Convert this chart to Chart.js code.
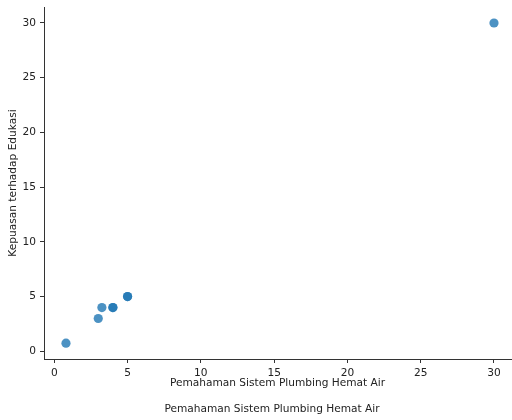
<!DOCTYPE html>
<html>
<head>
<meta charset="utf-8">
<script src="https://cdn.jsdelivr.net/npm/chart.js@4/dist/chart.umd.min.js"></script>
<style>
  body { margin: 0; background: #fff; }
  #wrap { width: 512px; height: 420px; }
</style>
</head>
<body>
<div id="wrap"><canvas id="chart" width="512" height="420"></canvas></div>
<script>
// data
const pemahaman = [0.8, 3, 3.25, 4, 4, 5, 5, 30];     // x
const kepuasan  = [0.75, 3, 4, 4, 4, 5, 5, 30];       // y
const xTitle = 'Pemahaman Sistem Plumbing Hemat Air';
const yTitle = 'Kepuasan terhadap Edukasi';
const caption = 'Pemahaman Sistem Plumbing Hemat Air';

const FONT = 'DejaVu Sans';
const FS = 10.6;
const INK = '#222';

// second label under the axis title
const captionPlugin = {
  id: 'caption',
  afterDraw(c) {
    const ctx = c.ctx;
    ctx.save();
    ctx.font = `${FS}px "${FONT}"`;
    ctx.fillStyle = INK;
    ctx.textAlign = 'center';
    ctx.textBaseline = 'middle';
    ctx.fillText(caption, 272, 409);
    ctx.restore();
  }
};

const points = pemahaman.map((x, i) => ({ x, y: kepuasan[i] }));

new Chart(document.getElementById('chart'), {
  type: 'scatter',
  data: {
    datasets: [{
      data: points,
      backgroundColor: 'rgba(31,119,180,0.8)',
      borderWidth: 0,
      pointRadius: 4.6,
      pointHoverRadius: 4.6,
      clip: false
    }]
  },
  options: {
    responsive: false,
    animation: false,
    devicePixelRatio: 1,
    layout: { autoPadding: false, padding: { top: 7, right: 1, bottom: 29, left: 0 } },
    plugins: { legend: { display: false }, tooltip: { enabled: false } },
    scales: {
      x: {
        type: 'linear',
        min: -0.7, max: 31.16,
        afterFit: s => { s.height = 32; s.paddingLeft = 0; s.paddingRight = 0; },
        ticks: { stepSize: 5, includeBounds: false, padding: 4, color: INK, font: { family: FONT, size: FS } },
        grid: { drawOnChartArea: false, drawTicks: true, tickLength: 4, color: '#333' },
        border: { display: true, color: '#333', width: 1 },
        title: { display: true, text: xTitle, color: INK, padding: { top: 0, bottom: 1 }, font: { family: FONT, size: FS } }
      },
      y: {
        type: 'linear',
        min: -0.7, max: 31.46,
        afterFit: s => { s.width = 44; s.paddingTop = 0; s.paddingBottom = 0; },
        ticks: { stepSize: 5, includeBounds: false, padding: 4, color: INK, font: { family: FONT, size: FS } },
        grid: { drawOnChartArea: false, drawTicks: true, tickLength: 4, color: '#333' },
        border: { display: true, color: '#333', width: 1 },
        title: { display: true, text: yTitle, color: INK, padding: { top: 7, bottom: 0 }, font: { family: FONT, size: FS } }
      }
    }
  },
  plugins: [captionPlugin]
});
</script>
</body>
</html>
